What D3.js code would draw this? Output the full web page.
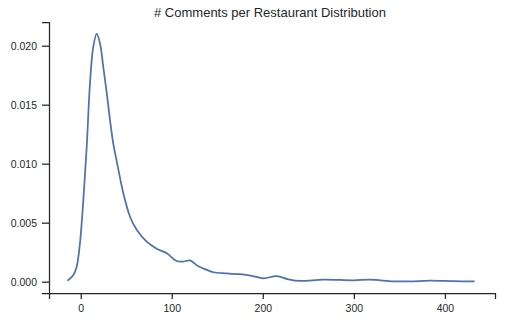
<!DOCTYPE html>
<html>
<head>
<meta charset="utf-8">
<script src="https://d3js.org/d3.v7.min.js"></script>
<style>
  body { margin: 0; background: #fff; }
  text { font-family: "Liberation Sans", Arial, sans-serif; fill: #262626; }
</style>
</head>
<body>
<div id="chart"></div>
<script>
// density estimate
var comments = [-14.5, -8, -4.4, -0.8, 2.9, 6.6, 10.2, 13.8, 17.6, 21.2, 24.8, 28.6, 32.2, 35.8, 39.6, 43.2, 46.8,
                54.2, 61.5, 72.5, 83.5, 94.5, 105.5, 112, 120, 129.2, 138.5, 145.7, 160, 175, 188, 200.7, 215.3,
                228, 241, 266.6, 299.6, 318, 343.6, 362, 383.8, 410, 432.5];
var density = [0.00008, 0.00057, 0.00127, 0.00325, 0.0069, 0.0114, 0.0168, 0.0199, 0.0210, 0.0202, 0.0182, 0.0160,
               0.0137, 0.0117, 0.0102, 0.0088, 0.0075, 0.0055, 0.0044, 0.0034, 0.0028, 0.0024, 0.00175, 0.0017,
               0.0018, 0.0013, 0.0010, 0.0008, 0.0007, 0.00063, 0.0005, 0.00029, 0.00046, 0.0002, 0.00006, 0.00017,
               0.00012, 0.00017, 0.00003, 0.00003, 0.00008, 0.00004, 0.00002];
var xTicks = [0, 100, 200, 300, 400];
var yTicks = [0, 0.005, 0.010, 0.015, 0.020];
var title = "# Comments per Restaurant Distribution";

var W = 507, H = 324;
var margin = {top: 22, right: 12, bottom: 31, left: 49};

var svg = d3.select("#chart").append("svg")
  .attr("width", W).attr("height", H);

var x = d3.scaleLinear().domain([-34.8, 455]).range([margin.left, W - margin.right]);
var y = d3.scaleLinear().domain([-0.00096, 0.02201]).range([H - margin.bottom, margin.top]);

var xAxis = svg.append("g")
  .attr("transform", "translate(0," + (H - margin.bottom) + ")")
  .call(d3.axisBottom(x).tickValues(xTicks).tickFormat(d3.format("d")).tickSizeOuter(0).tickSize(6).tickPadding(6));
var yAxis = svg.append("g")
  .attr("transform", "translate(" + margin.left + ",0)")
  .call(d3.axisLeft(y).tickValues(yTicks).tickFormat(d3.format(".3f")).tickSizeOuter(0).tickSize(7).tickPadding(5));

[xAxis, yAxis].forEach(function(g) {
  g.select(".domain").attr("stroke", "#262626").attr("stroke-width", 1.25);
  g.selectAll(".tick line").attr("stroke", "#262626").attr("stroke-width", 1.25);
  g.selectAll(".tick text").attr("font-size", 10.5).attr("fill", "#262626")
    .attr("font-family", "'Liberation Sans', Arial, sans-serif");
});

var pts = comments.map(function(c, i) { return [c, density[i]]; });
svg.append("path")
  .datum(pts)
  .attr("fill", "none")
  .attr("stroke", "#4c72b0")
  .attr("stroke-width", 1.75)
  .attr("stroke-linejoin", "round")
  .attr("d", d3.line()
    .x(function(d) { return x(d[0]); })
    .y(function(d) { return y(d[1]); })
    .curve(d3.curveCatmullRom.alpha(0.5)));

svg.append("text")
  .attr("x", 270).attr("y", 17)
  .attr("text-anchor", "middle")
  .attr("font-size", 13)
  .text(title);
</script>
</body>
</html>
